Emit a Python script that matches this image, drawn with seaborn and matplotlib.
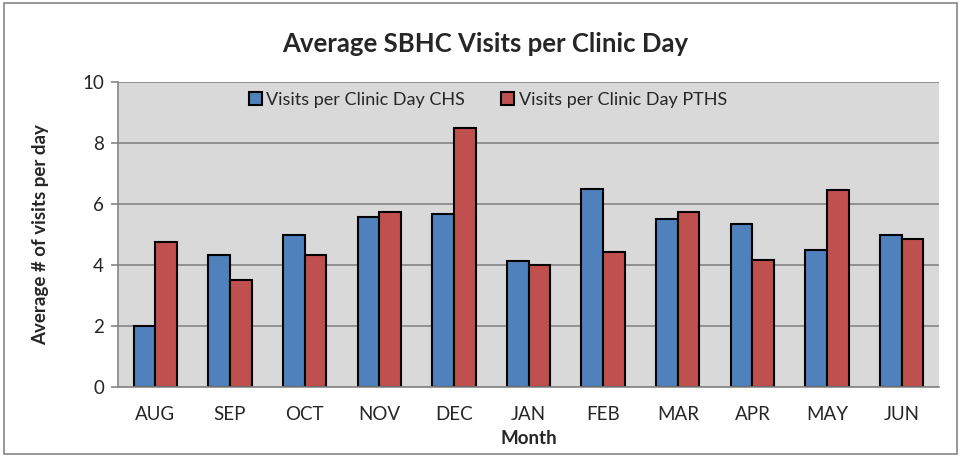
import numpy as np
import pandas as pd
import seaborn as sns
import matplotlib.pyplot as plt
from matplotlib.patches import Rectangle, Patch

# datos
months = ['AUG', 'SEP', 'OCT', 'NOV', 'DEC', 'JAN', 'FEB', 'MAR', 'APR', 'MAY', 'JUN']
chs = [2.0, 4.33, 5.0, 5.57, 5.67, 4.13, 6.5, 5.5, 5.33, 4.5, 5.0]
pths = [4.75, 3.5, 4.33, 5.75, 8.5, 4.0, 4.43, 5.75, 4.15, 6.47, 4.86]
series = ['Visits per Clinic Day CHS', 'Visits per Clinic Day PTHS']
colors = ['#4F81BD', '#C0504D']

df = pd.DataFrame({
    'Month': months * 2,
    'value': chs + pths,
    'serie': [series[0]] * len(months) + [series[1]] * len(months),
})

sns.set_style('white')
plt.rcParams['font.family'] = ['Lato', 'DejaVu Sans']

fig = plt.figure(figsize=(9.61, 4.57), dpi=100)
ax = fig.add_axes([118 / 961, 1 - 387 / 457, (939 - 118) / 961, (387 - 82) / 457])

sns.barplot(data=df, x='Month', y='value', hue='serie', palette=colors,
            width=0.58, edgecolor='black', linewidth=1.5, ax=ax, legend=False,
            saturation=1)

ax.set_facecolor('#D9D9D9')
ax.set_ylim(0, 10)
ax.set_xlim(-0.5, len(months) - 0.5)
ax.set_yticks(range(0, 11, 2))
ax.grid(axis='y', color='#868686', linewidth=1.2)
ax.set_axisbelow(True)
for s in ['top', 'right']:
    ax.spines[s].set_visible(False)
for s in ['left', 'bottom']:
    ax.spines[s].set_color('#868686')
    ax.spines[s].set_linewidth(1.2)

ax.set_xticks(np.arange(len(months)))
ax.set_xticklabels(months)
ax.set_xticks(np.arange(-0.5, len(months)), minor=True)
ax.tick_params(axis='x', which='major', length=0, labelsize=13.5, pad=14)
ax.tick_params(axis='x', which='minor', length=5, color='#868686', width=1.2)
ax.tick_params(axis='y', length=5, color='#868686', width=1.2, labelsize=13.5, left=True, pad=5)

ax.set_xlabel('Month', fontsize=13.5, fontweight='bold', labelpad=5)
ax.set_ylabel('Average # of visits per day', fontsize=13.5, fontweight='bold', labelpad=24)

fig.suptitle('Average SBHC Visits per Clinic Day', x=485 / 961, y=1 - 44 / 457,
             va='center', fontsize=18.5, fontweight='bold')

handles = [Patch(facecolor=c, edgecolor='black', linewidth=1.5) for c in colors]
fig.legend(handles, series, loc='center', bbox_to_anchor=(488 / 961, 1 - 100 / 457),
           ncol=2, frameon=False, fontsize=13, handlelength=0.7, handleheight=0.7,
           handletextpad=0.25, columnspacing=2.0)

fig.patches.append(Rectangle((0.004, 0.006), 0.992, 0.988, transform=fig.transFigure,
                             fill=False, edgecolor='#868686', linewidth=1.2))

plt.savefig('out.png', dpi=100)
plt.close()
